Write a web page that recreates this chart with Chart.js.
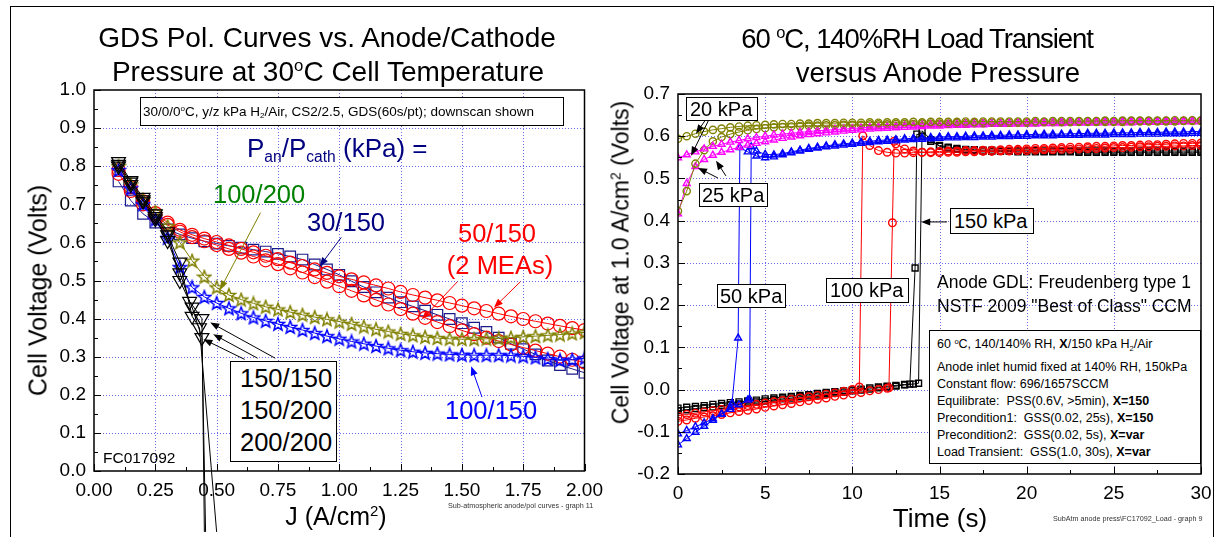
<!DOCTYPE html>
<html>
<head>
<meta charset="utf-8">
<script src="https://cdn.jsdelivr.net/npm/chart.js@4.4.1/dist/chart.umd.min.js"></script>
<style>
  body { margin: 0; background: #fff; width: 1222px; height: 537px; overflow: hidden; position: relative;
         font-family: "Liberation Sans", Arial, sans-serif; color: #000; }
  canvas { position: absolute; top: 0; }
  #left { left: 0; }
  #right { left: 611px; }
  .t { position: absolute; white-space: nowrap; line-height: 1; }
  .box { position: absolute; border: 1px solid #000; background: #fff; box-sizing: border-box; }
  sup, sub { font-size: 0.6em; line-height: 0; position: relative; vertical-align: baseline; }
  sup { top: -0.6em; }
  sub { top: 0.3em; }
  #pageFrame { position: absolute; left: 10px; top: 6px; width: 1204px; height: 540px;
               border: 1px solid #000; box-sizing: border-box; }
</style>
</head>
<body>
<div id="pageFrame"></div>
<canvas id="left" width="611" height="537"></canvas>
<canvas id="right" width="611" height="537"></canvas>
<script>
// -------------------- LEFT PANEL DATA (pol curves) --------------------
const jGrid = [0.1,0.15,0.2,0.25,0.3,0.35,0.4,0.45,0.5,0.55,0.6,0.65,0.7,0.75,0.8,0.85,0.9,0.95,1.0,
  1.05,1.1,1.15,1.2,1.25,1.3,1.35,1.4,1.45,1.5,1.55,1.6,1.65,1.7,1.75,1.8,1.85,1.9,1.95,2.0];

const v30_150 = [0.760,0.710,0.675,0.652,0.634,0.621,0.611,0.603,0.597,0.591,0.586,0.581,0.576,0.570,0.563,0.555,0.542,0.529,0.515,
  0.498,0.483,0.469,0.455,0.443,0.432,0.421,0.410,0.399,0.388,0.376,0.365,0.350,0.334,0.320,0.306,0.290,0.278,0.268,0.258];
const v50_150a = [0.790,0.745,0.708,0.677,0.652,0.633,0.620,0.610,0.601,0.592,0.583,0.574,0.565,0.556,0.547,0.538,0.529,0.520,0.511,
  0.503,0.495,0.487,0.479,0.470,0.462,0.455,0.448,0.441,0.434,0.427,0.420,0.413,0.406,0.399,0.393,0.387,0.381,0.375,0.370];
const v50_150b = [0.780,0.735,0.700,0.670,0.646,0.628,0.614,0.603,0.593,0.583,0.573,0.563,0.553,0.543,0.532,0.521,0.509,0.497,0.485,
  0.473,0.461,0.449,0.437,0.425,0.413,0.402,0.391,0.380,0.369,0.359,0.350,0.341,0.332,0.324,0.316,0.308,0.300,0.292,0.285];
const v100_200 = [0.800,0.752,0.712,0.680,0.643,0.600,0.552,0.510,0.482,0.462,0.450,0.440,0.431,0.424,0.417,0.410,0.404,0.398,0.392,
  0.386,0.379,0.372,0.366,0.360,0.356,0.352,0.349,0.347,0.346,0.346,0.347,0.348,0.350,0.352,0.354,0.356,0.358,0.361,0.364];
const v100_150 = [0.790,0.742,0.700,0.660,0.612,0.535,0.482,0.457,0.441,0.427,0.414,0.403,0.394,0.386,0.378,0.370,0.362,0.354,0.347,
  0.340,0.334,0.328,0.322,0.317,0.313,0.310,0.308,0.306,0.305,0.304,0.304,0.304,0.303,0.301,0.298,0.294,0.291,0.292,0.296];

// black triangles: steep drop, last point runs off below the axis
const j150_150 = [0.1,0.15,0.2,0.25,0.3,0.35,0.39,0.44,0.45];
const v150_150 = [0.800,0.752,0.708,0.662,0.605,0.520,0.445,0.400,-0.16];
const j150_200 = [0.1,0.15,0.2,0.25,0.3,0.35,0.4,0.43,0.50];
const v150_200 = [0.805,0.758,0.712,0.668,0.620,0.548,0.406,0.376,-0.16];
const j200_200 = [0.1,0.15,0.2,0.25,0.3,0.35,0.4,0.44,0.455];
const v200_200 = [0.812,0.762,0.718,0.675,0.628,0.500,0.430,0.350,-0.16];

const leftXTicks = [0,0.25,0.5,0.75,1.0,1.25,1.5,1.75,2.0];
const leftXMinor = [0.125,0.375,0.625,0.875,1.125,1.375,1.625,1.875];
const leftYTicks = [0,0.1,0.2,0.3,0.4,0.5,0.6,0.7,0.8,0.9,1.0];
const leftYMinor = [0.05,0.15,0.25,0.35,0.45,0.55,0.65,0.75,0.85,0.95];

// -------------------- RIGHT PANEL DATA (load transient) --------------------
const tHead = [0,0.5,1,1.5,2,2.5,3,3.5,4,4.5,5,5.5,6,6.5,7,7.5,8,8.5,9,9.5,10,10.5,11,11.5,12,12.5,13,13.5,14,14.5];
const tTail = [15,15.5,16,16.5,17,17.5,18,18.5,19,19.5,20,20.5,21,21.5,22,22.5,23,23.5,24,24.5,
  25,25.5,26,26.5,27,27.5,28,28.5,29,29.5,30];

const olive20V = [0.594,0.600,0.606,0.611,0.615,0.618,0.621,0.623,0.625,0.626,
  0.627,0.628,0.629,0.629,0.630,0.630,0.631,0.631,0.631,0.632,
  0.632,0.632,0.633,0.632,0.633,0.633,0.633,0.634,0.633,0.634,
  0.634,0.634,0.634,0.635,0.634,0.635,0.635,0.635,0.635,0.635,
  0.635,0.636,0.635,0.636,0.636,0.636,0.636,0.636,0.636,0.637,
  0.636,0.637,0.637,0.637,0.637,0.637,0.637,0.638,0.637,0.638, 0.638];
const magenta20V = [0.549,0.556,0.563,0.570,0.576,0.581,0.586,0.590,0.594,0.597,
  0.600,0.603,0.605,0.607,0.609,0.611,0.613,0.614,0.616,0.617,
  0.618,0.620,0.621,0.622,0.623,0.624,0.625,0.625,0.626,0.627,
  0.627,0.628,0.628,0.629,0.629,0.630,0.630,0.630,0.631,0.631,
  0.631,0.632,0.632,0.632,0.633,0.633,0.633,0.633,0.634,0.634,
  0.634,0.634,0.635,0.635,0.635,0.635,0.636,0.636,0.636,0.636, 0.637];
const olive25V = [0.423,0.470,0.535,0.567,0.588,0.598,0.605,0.610,0.614,0.617,
  0.619,0.621,0.622,0.623,0.624,0.625,0.625,0.626,0.626,0.627,
  0.627,0.627,0.628,0.628,0.628,0.629,0.629,0.629,0.630,0.630,
  0.630,0.630,0.631,0.631,0.631,0.631,0.632,0.632,0.632,0.632,
  0.632,0.633,0.633,0.633,0.633,0.633,0.634,0.634,0.634,0.634,
  0.634,0.634,0.635,0.635,0.635,0.635,0.635,0.635,0.636,0.636, 0.636];
const magenta25V = [0.416,0.488,0.528,0.545,0.555,0.562,0.568,0.574,0.579,0.583,
  0.587,0.591,0.595,0.598,0.601,0.604,0.606,0.608,0.610,0.612,
  0.614,0.615,0.617,0.618,0.619,0.620,0.621,0.622,0.623,0.624,
  0.624,0.625,0.626,0.626,0.627,0.627,0.628,0.628,0.628,0.629,
  0.629,0.629,0.630,0.630,0.630,0.631,0.631,0.631,0.631,0.632,
  0.632,0.632,0.632,0.633,0.633,0.633,0.633,0.633,0.634,0.634, 0.634];

// 50 kPa (blue), two runs
const blueAT = [0,0.5,1,1.5,2,2.5,3,3.1,3.45,3.55,4,4.5,5,5.5,6,6.5,7,7.5,8,8.5,9,9.5,10,10.5,11,11.5,12,12.5,13,13.5,14,14.5];
const blueAV = [-0.131,-0.116,-0.101,-0.087,-0.073,-0.058,-0.042,-0.032,0.122,0.573,0.563,0.553,
  0.549,0.551,0.556,0.561,0.565,0.569,0.572,0.575,0.577,0.579,0.581,0.583,0.585,0.587,0.588,0.589,0.591,0.592,0.593,0.594,
  0.595,0.596,0.596,0.597,0.597,0.598,0.598,0.599,0.599,0.600,0.600,0.601,0.601,0.601,0.602,0.602,0.602,0.603,0.603,0.603,
  0.604,0.604,0.604,0.605,0.605,0.605,0.606,0.606,0.606,0.607,0.607];
const blueBT = [0,0.5,1,1.5,2,2.5,3,3.5,4,4.1,4.2,4.5,5,5.5,6,6.5,7,7.5,8,8.5,9,9.5,10,10.5,11,11.5,12,12.5,13,13.5,14,14.5];
const blueBV = [-0.105,-0.097,-0.088,-0.079,-0.069,-0.058,-0.047,-0.036,-0.025,-0.022,0.575,0.565,
  0.557,0.556,0.559,0.563,0.567,0.571,0.574,0.577,0.580,0.582,0.584,0.586,0.588,0.590,0.591,0.592,0.594,0.595,0.596,0.597,
  0.598,0.599,0.599,0.600,0.601,0.601,0.602,0.602,0.603,0.603,0.604,0.604,0.605,0.605,0.605,0.606,0.606,0.607,0.607,0.607,
  0.608,0.608,0.608,0.609,0.609,0.609,0.610,0.610,0.610,0.611,0.611];

// 100 kPa (red), two runs
const redAT = [0,0.5,1,1.5,2,2.5,3,3.5,4,4.5,5,5.5,6,6.5,7,7.5,8,8.5,9,9.5,10,10.4,10.6,11,11.5,12,12.5,13,13.5,14,14.5];
const redAV = [-0.062,-0.059,-0.056,-0.053,-0.050,-0.047,-0.044,-0.041,-0.038,-0.035,
  -0.032,-0.029,-0.026,-0.023,-0.020,-0.017,-0.014,-0.011,-0.008,-0.004,
  0.000,0.006,0.601,0.578,0.566,0.562,0.560,0.560,0.561,0.562,0.563,
  0.564,0.565,0.565,0.566,0.566,0.567,0.567,0.568,0.569,0.569,
  0.570,0.571,0.571,0.572,0.573,0.574,0.574,0.575,0.576,0.576,
  0.577,0.578,0.578,0.579,0.580,0.580,0.581,0.582,0.583,0.583, 0.584];
const redBT = [0,0.5,1,1.5,2,2.5,3,3.5,4,4.5,5,5.5,6,6.5,7,7.5,8,8.5,9,9.5,10,10.5,11,11.5,12,12.1,12.3,12.4,12.5,13,13.5,14,14.5];
const redBV = [-0.075,-0.072,-0.068,-0.065,-0.062,-0.059,-0.055,-0.052,-0.049,-0.046,
  -0.042,-0.039,-0.036,-0.033,-0.029,-0.026,-0.023,-0.020,-0.016,-0.013,
  -0.010,-0.007,-0.003,0.000,0.003,0.004,0.395,0.588,0.582,0.570,0.565,0.562,0.561,
  0.561,0.562,0.562,0.563,0.563,0.564,0.564,0.565,0.565,0.566,
  0.566,0.567,0.568,0.568,0.569,0.569,0.570,0.571,0.571,0.572,
  0.573,0.573,0.574,0.575,0.575,0.576,0.576,0.577,0.577,0.578, 0.578];

// 150 kPa (black), two runs
const blackAT = [0,0.5,1,1.5,2,2.5,3,3.5,4,4.5,5,5.5,6,6.5,7,7.5,8,8.5,9,9.5,10,10.5,11,11.5,12,12.5,13,13.3,13.6,13.7,14,14.5];
const blackAV = [-0.044,-0.042,-0.040,-0.038,-0.035,-0.033,-0.031,-0.029,-0.027,-0.025,
  -0.022,-0.020,-0.018,-0.016,-0.014,-0.012,-0.009,-0.007,-0.005,-0.003,
  -0.001,0.001,0.004,0.006,0.008,0.010,0.012,0.013,0.288,0.605,0.600,0.588,
  0.578,0.574,0.571,0.569,0.568,0.567,0.567,0.566,0.566,0.566,
  0.566,0.566,0.565,0.565,0.565,0.565,0.565,0.565,0.565,0.565,
  0.565,0.565,0.565,0.565,0.565,0.565,0.565,0.565,0.565,0.565, 0.565];
const blackBT = [0,0.5,1,1.5,2,2.5,3,3.5,4,4.5,5,5.5,6,6.5,7,7.5,8,8.5,9,9.5,10,10.5,11,11.5,12,12.5,13,13.5,13.8,14,14.5];
const blackBV = [-0.050,-0.048,-0.045,-0.043,-0.041,-0.038,-0.036,-0.034,-0.031,-0.029,
  -0.027,-0.024,-0.022,-0.020,-0.017,-0.015,-0.013,-0.010,-0.008,-0.006,
  -0.003,-0.001,0.001,0.004,0.006,0.008,0.011,0.013,0.015,0.613,0.592,
  0.576,0.572,0.569,0.567,0.566,0.565,0.564,0.564,0.564,0.563,
  0.563,0.563,0.563,0.563,0.563,0.563,0.562,0.562,0.562,0.562,
  0.562,0.562,0.562,0.562,0.562,0.562,0.562,0.562,0.562,0.562, 0.562];

const rightXTicks = [0,5,10,15,20,25,30];
const rightXMinor = [2.5,7.5,12.5,17.5,22.5,27.5];
const rightYTicks = [-0.2,-0.1,0,0.1,0.2,0.3,0.4,0.5,0.6,0.7];
const rightYMinor = [-0.15,-0.05,0.05,0.15,0.25,0.35,0.45,0.55,0.65];

// annotation arrows, in data units [x, y]
const leftArrows = [
  { from: [0.679, 0.678], to: [0.514, 0.476], color: "#808000" },
  { from: [1.008, 0.613], to: [0.920, 0.537], color: "#000080" },
  { from: [1.482, 0.497], to: [1.337, 0.398], color: "#ff0000" },
  { from: [1.739, 0.497], to: [1.631, 0.429], color: "#ff0000" },
  { from: [1.582, 0.194], to: [1.538, 0.275], color: "#0000ff" },
  { from: [0.739, 0.296], to: [0.474, 0.390], color: "#000" },
  { from: [0.667, 0.296], to: [0.486, 0.359], color: "#000" },
  { from: [0.614, 0.293], to: [0.446, 0.346], color: "#000" },
];
const rightArrows = [
  { from: [1.78, 0.640], to: [0.75, 0.554], color: "#000" },
  { from: [1.60, 0.640], to: [1.03, 0.606], color: "#000" },
  { from: [2.29, 0.501], to: [1.15, 0.525], color: "#000" },
  { from: [2.75, 0.506], to: [2.18, 0.542], color: "#000" },
  { from: [15.43, 0.397], to: [13.95, 0.397], color: "#000" },
];

// -------------------- HELPERS --------------------
const xy = (xs, ys) => xs.map((x, i) => ({ x, y: ys[i] }));

function starImg(color) {
  const c = document.createElement("canvas");
  c.width = c.height = 16;
  const g = c.getContext("2d");
  g.strokeStyle = color;
  g.lineWidth = 1.5;
  g.beginPath();
  for (let i = 0; i < 10; i++) {
    const r = i % 2 ? 2.9 : 6.8;
    const a = -Math.PI / 2 + i * Math.PI / 5;
    g.lineTo(8 + r * Math.cos(a), 8.6 + r * Math.sin(a));
  }
  g.closePath();
  g.stroke();
  return c;
}

function series(xs, ys, color, style, radius, extra = {}) {
  return Object.assign({
    data: xy(xs, ys),
    showLine: true,
    borderColor: color,
    borderWidth: 1,
    pointStyle: style,
    pointRadius: radius,
    pointBorderColor: color,
    pointBackgroundColor: "rgba(0,0,0,0)",
    pointBorderWidth: 1.2,
  }, extra);
}

// grid, frame, inward ticks and arrows drawn through the chart's scales
function framePlugin(cfg) {
  return {
    id: "frame",
    beforeDatasetsDraw(chart) {
      const { ctx, chartArea: a, scales: { x, y } } = chart;
      ctx.save();
      ctx.strokeStyle = "#6a6af0";
      ctx.lineWidth = 1;
      ctx.setLineDash([1, 2]);
      ctx.beginPath();
      cfg.xMajor.forEach(v => {
        const p = Math.round(x.getPixelForValue(v)) + 0.5;
        if (p > a.left + 2 && p < a.right - 2) { ctx.moveTo(p, a.top); ctx.lineTo(p, a.bottom); }
      });
      cfg.yMajor.forEach(v => {
        const p = Math.round(y.getPixelForValue(v)) + 0.5;
        if (p > a.top + 2 && p < a.bottom - 2) { ctx.moveTo(a.left, p); ctx.lineTo(a.right, p); }
      });
      ctx.stroke();
      ctx.restore();
    },
    afterDatasetsDraw(chart) {
      const { ctx, chartArea: a, scales: { x, y } } = chart;
      ctx.save();
      ctx.strokeStyle = "#000";
      ctx.lineWidth = 1;
      ctx.beginPath();
      const tickX = (vals, len) => vals.forEach(v => {
        const p = Math.round(x.getPixelForValue(v)) + 0.5;
        ctx.moveTo(p, a.bottom); ctx.lineTo(p, a.bottom - len);
      });
      const tickY = (vals, len) => vals.forEach(v => {
        const p = Math.round(y.getPixelForValue(v)) + 0.5;
        ctx.moveTo(a.left, p); ctx.lineTo(a.left + len, p);
      });
      tickX(cfg.xMajor, 7); tickX(cfg.xMinor, 4);
      tickY(cfg.yMajor, 7); tickY(cfg.yMinor, 4);
      ctx.stroke();
      ctx.lineWidth = 1.5;
      ctx.strokeRect(a.left, a.top, a.right - a.left, a.bottom - a.top);

      // arrows
      ctx.lineWidth = 1;
      cfg.arrows.forEach(ar => {
        const x1 = x.getPixelForValue(ar.from[0]), y1 = y.getPixelForValue(ar.from[1]);
        const x2 = x.getPixelForValue(ar.to[0]), y2 = y.getPixelForValue(ar.to[1]);
        const ang = Math.atan2(y2 - y1, x2 - x1);
        ctx.strokeStyle = ar.color;
        ctx.fillStyle = ar.color;
        ctx.beginPath();
        ctx.moveTo(x1, y1);
        ctx.lineTo(x2 - 6 * Math.cos(ang), y2 - 6 * Math.sin(ang));
        ctx.stroke();
        ctx.beginPath();
        ctx.moveTo(x2, y2);
        ctx.lineTo(x2 - 9 * Math.cos(ang) + 3.5 * Math.sin(ang), y2 - 9 * Math.sin(ang) - 3.5 * Math.cos(ang));
        ctx.lineTo(x2 - 9 * Math.cos(ang) - 3.5 * Math.sin(ang), y2 - 9 * Math.sin(ang) + 3.5 * Math.cos(ang));
        ctx.closePath();
        ctx.fill();
      });
      ctx.restore();
    },
  };
}

function axisOpts(min, max, ticks, fmt, fit) {
  return {
    type: "linear", min, max,
    grid: { display: false, drawTicks: false },
    border: { display: false },
    afterBuildTicks: s => { s.ticks = ticks.map(v => ({ value: v })); },
    afterFit: fit,
    ticks: {
      autoSkip: false, maxRotation: 0, padding: 8, color: "#000",
      font: { family: "Liberation Sans", size: 19 },
      callback: fmt,
    },
  };
}

Chart.defaults.animation = false;

// -------------------- LEFT CHART --------------------
const starOlive = starImg("#808000");
const starBlue = starImg("#0000ff");

new Chart(document.getElementById("left"), {
  type: "scatter",
  data: {
    datasets: [
      series(j150_150, v150_150, "#000", "triangle", 8, { rotation: 180, clip: false, pointRadius: v150_150.map(v => v < 0 ? 0 : 8) }),
      series(j150_200, v150_200, "#000", "triangle", 8, { rotation: 180, clip: false, pointRadius: v150_200.map(v => v < 0 ? 0 : 8) }),
      series(j200_200, v200_200, "#000", "triangle", 8, { rotation: 180, clip: false, pointRadius: v200_200.map(v => v < 0 ? 0 : 8) }),
      series(jGrid, v100_150, "#0000ff", starBlue, 7),
      series(jGrid, v100_200, "#808000", starOlive, 7),
      series(jGrid, v50_150a, "#ff0000", "circle", 6.5),
      series(jGrid, v50_150b, "#ff0000", "circle", 6.5),
      series(jGrid, v30_150, "#1a1a8a", "rect", 7.5),
    ],
  },
  options: {
    responsive: false,
    layout: { padding: { left: 38, right: 19, top: 90, bottom: 25 } },
    plugins: { legend: { display: false }, tooltip: { enabled: false } },
    scales: {
      x: axisOpts(0, 2, leftXTicks, v => v.toFixed(2), s => { s.height = 41; }),
      y: axisOpts(0, 1, leftYTicks, v => v.toFixed(1), s => { s.width = 56; }),
    },
  },
  plugins: [framePlugin({ xMajor: leftXTicks, xMinor: leftXMinor, yMajor: leftYTicks, yMinor: leftYMinor, arrows: leftArrows })],
});

// -------------------- RIGHT CHART --------------------
const rOpts = { pointBorderWidth: 1.4 };
new Chart(document.getElementById("right"), {
  type: "scatter",
  data: {
    datasets: [
      series(tHead.concat(tTail), olive20V, "#808000", "circle", 3.6, rOpts),
      series(tHead.concat(tTail), magenta20V, "#ff00ff", "triangle", 4, rOpts),
      series(tHead.concat(tTail), olive25V, "#808000", "circle", 3.6, rOpts),
      series(tHead.concat(tTail), magenta25V, "#ff00ff", "triangle", 4, rOpts),
      series(blueAT.concat(tTail), blueAV, "#0000ff", "triangle", 4, rOpts),
      series(blueBT.concat(tTail), blueBV, "#0000ff", "triangle", 4, rOpts),
      series(redAT.concat(tTail), redAV, "#ff0000", "circle", 3.8, rOpts),
      series(redBT.concat(tTail), redBV, "#ff0000", "circle", 3.8, rOpts),
      series(blackAT.concat(tTail), blackAV, "#000", "rect", 4.2, rOpts),
      series(blackBT.concat(tTail), blackBV, "#000", "rect", 4.2, rOpts),
    ],
  },
  options: {
    responsive: false,
    layout: { padding: { left: 17, right: 21, top: 94, bottom: 23 } },
    plugins: { legend: { display: false }, tooltip: { enabled: false } },
    scales: {
      x: axisOpts(0, 30, rightXTicks, v => String(v), s => { s.height = 40; }),
      y: axisOpts(-0.2, 0.7, rightYTicks, v => v.toFixed(1), s => { s.width = 50; }),
    },
  },
  plugins: [framePlugin({ xMajor: rightXTicks, xMinor: rightXMinor, yMajor: rightYTicks, yMinor: rightYMinor, arrows: rightArrows })],
});

// -------------------- TEXT OVERLAYS --------------------
// b = baseline y; align "c" centres on x
const labels = [
  { html: "GDS Pol. Curves vs. Anode/Cathode", x: 327, b: 48, size: 28, align: "c" },
  { html: "Pressure at 30<sup>o</sup>C Cell Temperature", x: 328, b: 82, size: 28, align: "c" },
  { html: "60 <sup>o</sup>C, 140%RH Load Transient", x: 917, b: 48, size: 27.5, align: "c", ls: -1.1 },
  { html: "versus Anode Pressure", x: 938, b: 82, size: 27.5, align: "c" },
  { html: "J (A/cm<sup>2</sup>)", x: 336, b: 525, size: 25, align: "c" },
  { html: "Time (s)", x: 940, b: 527, size: 26, align: "c" },
  { html: "P<sub>an</sub>/P<sub>cath</sub> (kPa) =", x: 247, b: 157, size: 26, color: "#000080" },
  { html: "100/200", x: 213, b: 204, size: 25.5, color: "#008000" },
  { html: "30/150", x: 307, b: 232, size: 25.5, color: "#000080" },
  { html: "50/150", x: 497, b: 243, size: 25.5, color: "#ff0000", align: "c" },
  { html: "(2 MEAs)", x: 500, b: 275, size: 25.5, color: "#ff0000", align: "c" },
  { html: "100/150", x: 445, b: 420, size: 25.5, color: "#0000ff" },
  { html: "FC017092", x: 103, b: 463, size: 15.5 },
  { html: "Sub-atmospheric anode/pol curves - graph 11", x: 448, b: 508, size: 7.2, color: "#333" },
  { html: "SubAtm anode press\\FC17092_Load - graph 9", x: 1053, b: 521, size: 7.2, color: "#333" },
  { html: "Anode GDL: Freudenberg type 1", x: 937, b: 289, size: 17.5 },
  { html: "NSTF 2009 \"Best of Class\" CCM", x: 937, b: 313, size: 17.5 },
];

// boxes: left, top, width, height, text lines, font size, line gap
const boxes = [
  { x: 140, y: 97, w: 424, h: 29, size: 13.5, lines: ["30/0/0<sup>o</sup>C, y/z kPa H<sub>2</sub>/Air, CS2/2.5, GDS(60s/pt); downscan shown"], first: 116, gap: 0, pad: 3 },
  { x: 230, y: 361, w: 107, h: 101, size: 25.5, lines: ["150/150", "150/200", "200/200"], first: 388, gap: 32, pad: 10 },
  { x: 686, y: 97, w: 72, h: 24, size: 20, lines: ["20 kPa"], first: 116, gap: 0, pad: 4 },
  { x: 699, y: 183, w: 69, h: 24, size: 20, lines: ["25 kPa"], first: 202, gap: 0, pad: 3 },
  { x: 717, y: 284, w: 69, h: 24, size: 20, lines: ["50 kPa"], first: 303, gap: 0, pad: 3 },
  { x: 826, y: 278, w: 83, h: 25, size: 20, lines: ["100 kPa"], first: 297, gap: 0, pad: 4 },
  { x: 950, y: 208, w: 84, h: 26, size: 20, lines: ["150 kPa"], first: 228, gap: 0, pad: 4 },
  { x: 929, y: 330, w: 272, h: 134, size: 12.5, first: 349, gap: 17, pad: 8, lines: [
    "60 <sup>o</sup>C, 140/140% RH, <b>X</b>/150 kPa H<sub>2</sub>/Air",
    "Anode inlet humid fixed at 140% RH, 150kPa",
    "Constant flow: 696/1657SCCM",
    "Equilibrate:&nbsp; PSS(0.6V, &gt;5min), <b>X=150</b>",
    "Precondition1:&nbsp; GSS(0.02, 25s), <b>X=150</b>",
    "Precondition2:&nbsp; GSS(0.02, 5s), <b>X=var</b>",
    "Load Transient:&nbsp; GSS(1.0, 30s), <b>X=var</b>",
  ], gaps: [0, 23, 40, 57, 74, 91, 108] },
];

function addText(html, x, b, size, color, align, ls) {
  const d = document.createElement("div");
  d.className = "t";
  d.innerHTML = html;
  d.style.fontSize = size + "px";
  d.style.color = color || "#000";
  d.style.top = (b - 0.8465 * size) + "px";
  d.style.left = x + "px";
  if (ls) d.style.letterSpacing = ls + "px";
  if (align === "c") d.style.transform = "translateX(-50%)";
  document.body.appendChild(d);
  return d;
}

labels.forEach(l => addText(l.html, l.x, l.b, l.size, l.color, l.align, l.ls));

boxes.forEach(bx => {
  const d = document.createElement("div");
  d.className = "box";
  Object.assign(d.style, { left: bx.x + "px", top: bx.y + "px", width: bx.w + "px", height: bx.h + "px" });
  document.body.appendChild(d);
  bx.lines.forEach((ln, i) => {
    const off = bx.gaps ? bx.gaps[i] : i * bx.gap;
    addText(ln, bx.x + bx.pad, bx.first + off, bx.size);
  });
});

// rotated axis titles, centred on (cx, cy)
function addRotated(html, cx, cy, size) {
  const d = addText(html, cx, cy, size);
  d.style.top = (cy - size / 2) + "px";
  d.style.transform = "translateX(-50%) rotate(-90deg)";
  d.style.transformOrigin = "50% 50%";
}
addRotated("Cell Voltage (Volts)", 38, 290, 25);
addRotated("Cell Voltage at 1.0 A/cm<sup>2</sup> (Volts)", 621, 262, 23);
</script>
</body>
</html>
